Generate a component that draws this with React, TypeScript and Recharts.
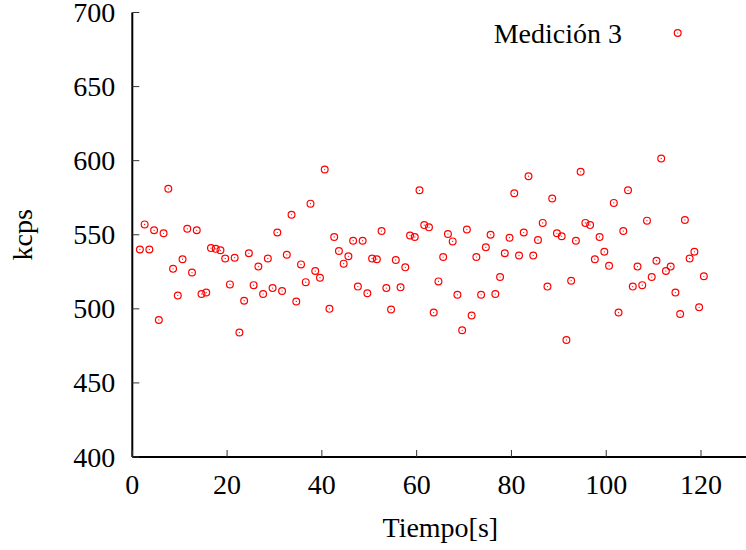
import React from "react";
import { ScatterChart, Scatter, XAxis, YAxis, Legend } from "recharts";

const seriesName = "Medición 3";
const xLabel = "Tiempo[s]";
const yLabel = "kcps";

const xTicks = [0, 20, 40, 60, 80, 100, 120];
const yTicks = [400, 450, 500, 550, 600, 650, 700];

const times = [
  1.6, 2.6, 3.6, 4.6, 5.6, 6.6, 7.6, 8.6, 9.6, 10.6,
  11.6, 12.6, 13.6, 14.6, 15.6, 16.6, 17.6, 18.6, 19.6, 20.6,
  21.6, 22.6, 23.6, 24.6, 25.6, 26.6, 27.6, 28.6, 29.6, 30.6,
  31.6, 32.6, 33.6, 34.6, 35.6, 36.6, 37.6, 38.6, 39.6, 40.6,
  41.6, 42.6, 43.6, 44.6, 45.6, 46.6, 47.6, 48.6, 49.6, 50.6,
  51.6, 52.6, 53.6, 54.6, 55.6, 56.6, 57.6, 58.6, 59.6, 60.6,
  61.6, 62.6, 63.6, 64.6, 65.6, 66.6, 67.6, 68.6, 69.6, 70.6,
  71.6, 72.6, 73.6, 74.6, 75.6, 76.6, 77.6, 78.6, 79.6, 80.6,
  81.6, 82.6, 83.6, 84.6, 85.6, 86.6, 87.6, 88.6, 89.6, 90.6,
  91.6, 92.6, 93.6, 94.6, 95.6, 96.6, 97.6, 98.6, 99.6, 100.6,
  101.6, 102.6, 103.6, 104.6, 105.6, 106.6, 107.6, 108.6, 109.6, 110.6,
  111.6, 112.6, 113.6, 114.6, 115.6, 116.6, 117.6, 118.6, 119.6, 120.6,
];

const kcps = [
  540, 557, 540, 553, 492.5, 551, 581, 527, 509, 533.5,
  554, 524.5, 553, 510, 511, 541, 540.5, 539.5, 534, 516.5,
  534.5, 484, 505.5, 537.5, 516, 528.5, 510, 534, 514, 551.5,
  512, 536.5, 563.5, 505, 530, 518, 571, 525.5, 521, 594,
  500, 548.5, 539, 530.5, 535.5, 546, 515, 546, 510.5, 534,
  533.5, 552.5, 514, 499.5, 533, 514.5, 528, 549.5, 548.5, 580,
  556.5, 555, 497.5, 518.5, 535, 550.5, 545.5, 509.5, 485.5, 553.5,
  495.5, 535, 509.5, 541.5, 550, 510, 521.5, 537.5, 548, 578,
  536, 551.5, 589.5, 536, 546.5, 558, 515, 574.5, 551, 549,
  479, 519, 546, 592.5, 558, 556.5, 533.5, 548.5, 538.5, 529,
  571.5, 497.5, 552.5, 580, 515, 528.5, 516, 559.5, 521.5, 532.5,
  601.5, 525.5, 528.5, 511, 496.5, 560, 534, 538.5, 501, 522,
];

const data = times.map((t, i) => ({ t, v: kcps[i] }));

const FONT = "'Liberation Serif', 'DejaVu Serif', serif";
const FS = 28;
const RED = "#ff0000";
const TICK = "#333";
const TICKLEN = 7;

const txtStyle: React.CSSProperties = { fontFamily: FONT, fontSize: FS };

const BottomTick = (props: any) => {
  const { x, y, payload } = props;
  return (
    <g>
      <line x1={x} y1={y} x2={x} y2={y - TICKLEN} stroke={TICK} strokeWidth={1} />
      <text x={x} y={y + 37} textAnchor="middle" style={txtStyle} fill="#000">
        {payload.value}
      </text>
    </g>
  );
};

const TopTick = (props: any) => {
  const { x, y } = props;
  return <line x1={x} y1={y} x2={x} y2={y + TICKLEN} stroke={TICK} strokeWidth={1} />;
};

const LeftTick = (props: any) => {
  const { x, y, payload } = props;
  return (
    <g>
      <line x1={x} y1={y} x2={x + TICKLEN} y2={y} stroke={TICK} strokeWidth={1} />
      <text x={x - 17} y={y + 9.5} textAnchor="end" style={txtStyle} fill="#000">
        {payload.value}
      </text>
    </g>
  );
};

const RightTick = (props: any) => {
  const { x, y } = props;
  return <line x1={x} y1={y} x2={x - TICKLEN} y2={y} stroke={TICK} strokeWidth={1} />;
};

const Dot = (props: any) => {
  const { cx, cy } = props;
  return (
    <g>
      <circle cx={cx} cy={cy} r={3.4} fill="none" stroke={RED} strokeWidth={1.2} />
      <circle cx={cx} cy={cy} r={0.6} fill={RED} />
    </g>
  );
};

const XLabel = (props: any) => {
  const vb = props.viewBox || {};
  return (
    <text x={vb.x + vb.width / 2} y={vb.y + 80} textAnchor="middle" style={txtStyle} fill="#000">
      {xLabel}
    </text>
  );
};

const YLabel = (props: any) => {
  const vb = props.viewBox || {};
  const cx = 32;
  const cy = vb.y + vb.height / 2;
  return (
    <text x={cx} y={cy} transform={`rotate(-90 ${cx} ${cy})`} textAnchor="middle" style={txtStyle} fill="#000">
      {yLabel}
    </text>
  );
};

const LegendBox = () => (
  <svg width={760} height={60} style={{ position: "absolute", left: 0, top: 0, overflow: "visible", pointerEvents: "none" }}>
    <text x={622} y={43} textAnchor="end" style={txtStyle} fill="#000">
      {seriesName}
    </text>
    <circle cx={677.7} cy={33} r={3.4} fill="none" stroke={RED} strokeWidth={1.2} />
    <circle cx={677.7} cy={33} r={0.6} fill={RED} />
  </svg>
);

export default function App() {
  return (
    <div style={{ position: "fixed", left: 0, top: 0, width: 746, height: 550, overflow: "hidden", background: "#fff" }}>
      <ScatterChart width={760} height={550} margin={{ top: 12.5, right: 11.6, bottom: 0, left: 0 }}>
        <XAxis
          xAxisId="b"
          dataKey="t"
          type="number"
          domain={[0, 130]}
          ticks={xTicks}
          orientation="bottom"
          height={93}
          tickSize={0}
          tickMargin={0}
          tickLine={false}
          axisLine={{ stroke: "#000", strokeWidth: 2 }}
          tick={<BottomTick />}
          interval={0}
          allowDataOverflow
          label={<XLabel />}
        />
        <XAxis
          xAxisId="t"
          type="number"
          domain={[0, 130]}
          ticks={xTicks}
          orientation="top"
          height={0}
          tickSize={0}
          tickMargin={0}
          tickLine={false}
          axisLine={{ stroke: "#000", strokeWidth: 2 }}
          tick={<TopTick />}
          interval={0}
          allowDataOverflow
        />
        <YAxis
          yAxisId="l"
          dataKey="v"
          type="number"
          domain={[400, 700]}
          ticks={yTicks}
          orientation="left"
          width={132.3}
          tickSize={0}
          tickMargin={0}
          tickLine={false}
          axisLine={{ stroke: "#000", strokeWidth: 2 }}
          tick={<LeftTick />}
          interval={0}
          allowDataOverflow
          label={<YLabel />}
        />
        <YAxis
          yAxisId="r"
          type="number"
          domain={[400, 700]}
          ticks={yTicks}
          orientation="right"
          width={0}
          tickSize={0}
          tickMargin={0}
          tickLine={false}
          axisLine={{ stroke: "#000", strokeWidth: 2 }}
          tick={<RightTick />}
          interval={0}
          allowDataOverflow
        />
        <Legend
          verticalAlign="top"
          align="left"
          layout="horizontal"
          wrapperStyle={{ position: "absolute", left: 0, top: 0, width: 0, height: 0 }}
          content={() => <LegendBox />}
        />
        <Scatter
          name={seriesName}
          data={data}
          xAxisId="b"
          yAxisId="l"
          shape={<Dot />}
          isAnimationActive={false}
        />
      </ScatterChart>
    </div>
  );
}
